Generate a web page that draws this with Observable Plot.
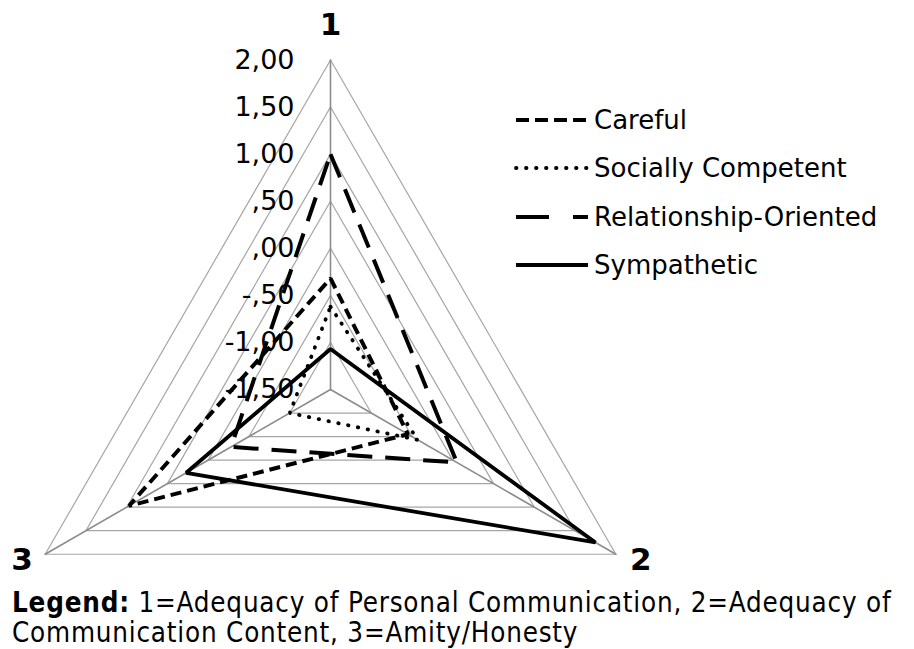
<!DOCTYPE html>
<html>
<head>
<meta charset="utf-8">
<script src="https://cdn.jsdelivr.net/npm/d3@7"></script>
<script src="https://cdn.jsdelivr.net/npm/@observablehq/plot@0.6"></script>
<style>
  body { margin: 0; background: #fff; width: 914px; height: 649px; position: relative; overflow: hidden; font-family: "DejaVu Sans", sans-serif; }
  #chart { position: absolute; left: 0; top: 0; }
  #legend { position: absolute; left: 514px; top: 96px; }
  .row { display: flex; align-items: center; height: 48.3px; font-size: 26px; color: #000; }
  .row svg { margin-right: 5px; }
  #caption { position: absolute; left: 12px; top: 587px; font-family: "DejaVu Sans Condensed", "DejaVu Sans", sans-serif; font-size: 27.5px; letter-spacing: 0.8px; line-height: 30px; color: #000; white-space: nowrap; }
</style>
</head>
<body>
<div id="chart"></div>
<div id="legend"></div>
<div id="caption"><b>Legend:</b> 1=Adequacy of Personal Communication, 2=Adequacy of<br>Communication Content, 3=Amity/Honesty</div>
<script>
// ---- data ----
const axisLabels = ["1", "2", "3"];
const tickValues = [2, 1.5, 1, 0.5, 0, -0.5, -1, -1.5];
const tickLabels = ["2,00", "1,50", "1,00", ",50", ",00", "-,50", "-1,00", "-1,50"];
const seriesNames = ["Careful", "Socially Competent", "Relationship-Oriented", "Sympathetic"];
const careful = [-0.32, -0.55, 0.97];
const sociallyCompetent = [-0.62, -0.43, -1.0];
const relationshipOriented = [1.0, 0.05, -0.28];
const sympathetic = [-1.07, 1.75, 0.27];

// ---- geometry helpers ----
const vMin = -1.5, vMax = 2;
const rMax = vMax - vMin;
const angle = i => i * 2 * Math.PI / 3;
const px = (v, i) => (v - vMin) * Math.sin(angle(i));
const py = (v, i) => (v - vMin) * Math.cos(angle(i));

const styles = {
  "Careful": {dash: "11,6", legendDash: "13,6", width: 4, cap: "butt"},
  "Socially Competent": {dash: "0.5,9.5", legendDash: "0.5,9.5", width: 3.8, cap: "round"},
  "Relationship-Oriented": {dash: "25,13", legendDash: "33,24", width: 4, cap: "butt"},
  "Sympathetic": {dash: null, legendDash: null, width: 3.8, cap: "butt"}
};

const seriesValues = [careful, sociallyCompetent, relationshipOriented, sympathetic];
const seriesData = seriesNames.map((name, s) => ({
  name,
  pts: seriesValues[s].map((v, i) => ({x: px(v, i), y: py(v, i), name}))
}));

// rings (excluding center)
const ringValues = tickValues.filter(v => v > vMin);
const ringData = ringValues.flatMap(v => [0, 1, 2, 0].map(i => ({x: px(v, i), y: py(v, i), ring: v})));
const spokes = axisLabels.flatMap((a, i) => [{x: 0, y: 0, a}, {x: px(vMax, i), y: py(vMax, i), a}]);
const ticks = tickValues.map((v, k) => ({x: 0, y: py(v, 0), label: tickLabels[k]}));
const axisLab = axisLabels.map((a, i) => ({x: px(vMax, i), y: py(vMax, i), a}));

const R = 329.5, cx = 330, cy = 389;

const marks = [
  Plot.line(ringData, {x: "x", y: "y", z: "ring", stroke: "#a6a6a6", strokeWidth: 1.2}),
  Plot.line(spokes, {x: "x", y: "y", z: "a", stroke: "#8c8c8c", strokeWidth: 1.6}),
  Plot.text(ticks, {x: "x", y: "y", text: "label", textAnchor: "end", dx: -36, fontSize: 27, fill: "#000"}),
  Plot.text([axisLab[0]], {x: "x", y: "y", text: "a", dy: -35, fontSize: 31, fontWeight: "bold", fill: "#000"}),
  Plot.text([axisLab[1]], {x: "x", y: "y", text: "a", dx: 25, dy: 6, fontSize: 31, fontWeight: "bold", fill: "#000"}),
  Plot.text([axisLab[2]], {x: "x", y: "y", text: "a", dx: -23, dy: 6, fontSize: 31, fontWeight: "bold", fill: "#000"})
];
for (const s of seriesData) {
  const st = styles[s.name];
  marks.push(Plot.line(s.pts, {
    x: "x", y: "y", curve: "linear-closed", stroke: "#000",
    strokeWidth: st.width, strokeDasharray: st.dash, strokeLinecap: st.cap, strokeLinejoin: "miter"
  }));
}

const chart = Plot.plot({
  width: 914,
  height: 585,
  margin: 0,
  x: {domain: [-rMax, rMax], range: [cx - R, cx + R], axis: null},
  y: {domain: [-rMax, rMax], range: [cy + R, cy - R], axis: null},
  style: {fontFamily: "DejaVu Sans, sans-serif", background: "transparent", overflow: "visible"},
  marks
});
document.getElementById("chart").appendChild(chart);

// legend
const legend = document.getElementById("legend");
for (const name of seriesNames) {
  const st = styles[name];
  const row = document.createElement("div");
  row.className = "row";
  const ns = "http://www.w3.org/2000/svg";
  const svg = document.createElementNS(ns, "svg");
  svg.setAttribute("width", 75);
  svg.setAttribute("height", 10);
  const ln = document.createElementNS(ns, "line");
  ln.setAttribute("x1", 2); ln.setAttribute("x2", 74);
  ln.setAttribute("y1", 5); ln.setAttribute("y2", 5);
  ln.setAttribute("stroke", "#000");
  ln.setAttribute("stroke-width", st.width);
  ln.setAttribute("stroke-linecap", st.cap);
  if (st.legendDash) ln.setAttribute("stroke-dasharray", st.legendDash);
  svg.appendChild(ln);
  const span = document.createElement("span");
  span.textContent = name;
  row.appendChild(svg);
  row.appendChild(span);
  legend.appendChild(row);
}
</script>
</body>
</html>
